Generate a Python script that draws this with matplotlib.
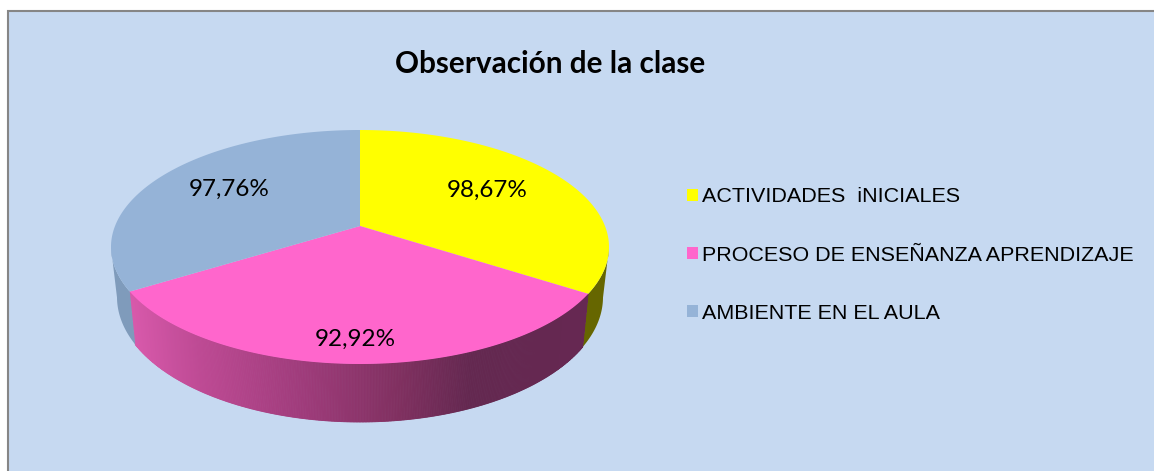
import numpy as np
import matplotlib
matplotlib.use("Agg")
import matplotlib.pyplot as plt
from matplotlib.patches import Polygon, Rectangle, Patch

# ---- data ----
categories = ["ACTIVIDADES  iNICIALES", "PROCESO DE ENSEÑANZA APRENDIZAJE", "AMBIENTE EN EL AULA"]
values = [98.67, 92.92, 97.76]
value_labels = ["98,67%", "92,92%", "97,76%"]
title = "Observación de la clase"

# ---- style ----
BG = "#C6D9F1"
FRAME = "#868686"
top_colors = ["#FFFF00", "#FF66CC", "#95B3D7"]
side_colors = ["#666600", None, "#7F9BBB"]
grad_x = [130, 200, 300, 400, 470, 590]
grad_rgb = np.array([(217, 90, 172), (190, 74, 148), (160, 60, 124), (128, 48, 96), (100, 40, 80), (102, 40, 82)]) / 255

W, H = 1154, 471
CX, CY, RX, RY = 360, 247, 249, 117      # top ellipse
BCY, BRX, BRY = 297, 243, 125            # bottom ellipse
APEX_Y = 226
c = (APEX_Y - CY) / RY                   # perspective shift of the pie centre


def project(theta):
    """Clockwise angle from 12 o'clock -> point on the unit disc under perspective."""
    u, v = np.sin(theta), -np.cos(theta)
    d = 1 + c * v
    return u * np.sqrt(1 - c * c) / d, (v + c) / d


def top_xy(u, v):
    return CX + RX * u, CY + RY * v


def bottom_xy(u, v):
    return CX + BRX * u, BCY + BRY * v


fig = plt.figure(figsize=(W / 100, H / 100), dpi=100, facecolor="white")
ax = fig.add_axes([0, 0, 1, 1])
ax.set_xlim(0, W)
ax.set_ylim(H, 0)
ax.axis("off")

ax.add_patch(Rectangle((8, 11), W + 20, H + 20, facecolor=BG, edgecolor=FRAME, lw=1.5, zorder=0))

edges = np.concatenate([[0], np.cumsum(values)]) / np.sum(values) * 2 * np.pi

# sides (only the front half of the rim is visible)
for i in range(len(values)):
    t = np.linspace(edges[i], edges[i + 1], 400)
    u, v = project(t)
    keep = v >= 0
    if not keep.any():
        continue
    u, v = u[keep], v[keep]
    tx, ty = top_xy(u, v)
    bx, by = bottom_xy(u, v)
    if side_colors[i] is not None:
        pts = np.r_[np.c_[tx, ty], np.c_[bx, by][::-1]]
        ax.add_patch(Polygon(pts, closed=True, facecolor=side_colors[i], edgecolor="none", zorder=1))
    else:
        for j in range(0, len(u) - 1):
            quad = [(tx[j], ty[j]), (tx[j + 1], ty[j + 1]), (bx[j + 1], by[j + 1]), (bx[j], by[j])]
            xm = (tx[j] + bx[j]) / 2
            col = [np.interp(xm, grad_x, grad_rgb[:, k]) for k in range(3)]
            ax.add_patch(Polygon(quad, closed=True, facecolor=col, edgecolor=col, lw=0.6, zorder=1))

# top faces
for i in range(len(values)):
    t = np.linspace(edges[i], edges[i + 1], 300)
    tx, ty = top_xy(*project(t))
    pts = np.r_[[(CX, APEX_Y)], np.c_[tx, ty]]
    ax.add_patch(Polygon(pts, closed=True, facecolor=top_colors[i], edgecolor="none", zorder=2))

# value labels
label_pos = [(487, 190), (355, 339), (229, 189)]
for (x, y), s in zip(label_pos, value_labels):
    ax.text(x, y, s, ha="center", va="center", fontsize=17.5, family="Lato", color="black", zorder=3)

# title
fig.suptitle(title, x=550 / W, y=1 - 64 / H, ha="center", va="center",
             fontsize=21.4, fontweight="bold", family="Lato", color="black")

# legend
handles = [Patch(facecolor=col, edgecolor="none") for col in top_colors]
ax.legend(handles, categories, loc="upper left", bbox_to_anchor=(680.5 / W, 1 - 181 / H),
          frameon=False, prop={"family": "Liberation Sans", "size": 15.45},
          handlelength=0.5, handleheight=0.5, handletextpad=0.2, labelspacing=1.83,
          borderpad=0.3, borderaxespad=0)

fig.savefig("out.png", dpi=100, facecolor="white")
